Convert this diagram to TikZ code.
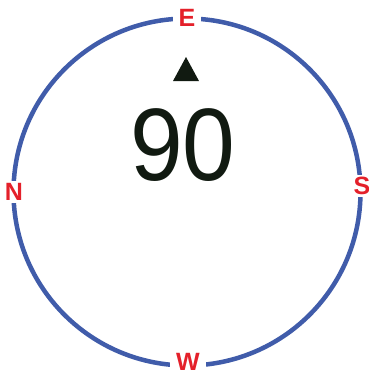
\documentclass[tikz,border=0pt]{standalone}
\usepackage{fontspec}
\setmainfont{Liberation Sans}
\definecolor{ringblue}{RGB}{64,92,170}
\definecolor{dirred}{RGB}{228,32,42}
\definecolor{markdark}{RGB}{17,26,17}
\begin{document}
\begin{tikzpicture}[x=1pt,y=-1pt,
  dirlabel/.style={fill=white,text=dirred,font=\fontsize{25}{25}\selectfont\bfseries,inner xsep=6pt,inner ysep=2pt},
]
\useasboundingbox (0,0) rectangle (368,373);
\node[circle,draw=ringblue,line width=4.5pt,minimum size=347pt,inner sep=0pt] (ring) at (187,192) {};
\node[dirlabel] (E) at (187,18) {E};
\node[dirlabel,inner xsep=2pt] (N) at (14,192) {N};
\node[dirlabel,inner xsep=2pt] (S) at (362,186) {S};
\node[dirlabel] (W) at (188,362) {W};
\fill[markdark] (173,81) -- (186,57) -- (199,81) -- cycle;
\node[text=markdark,font=\fontsize{103}{103}\selectfont,inner sep=0pt,xscale=0.92] (val) at (183,145) {90};
\end{tikzpicture}
\end{document}
